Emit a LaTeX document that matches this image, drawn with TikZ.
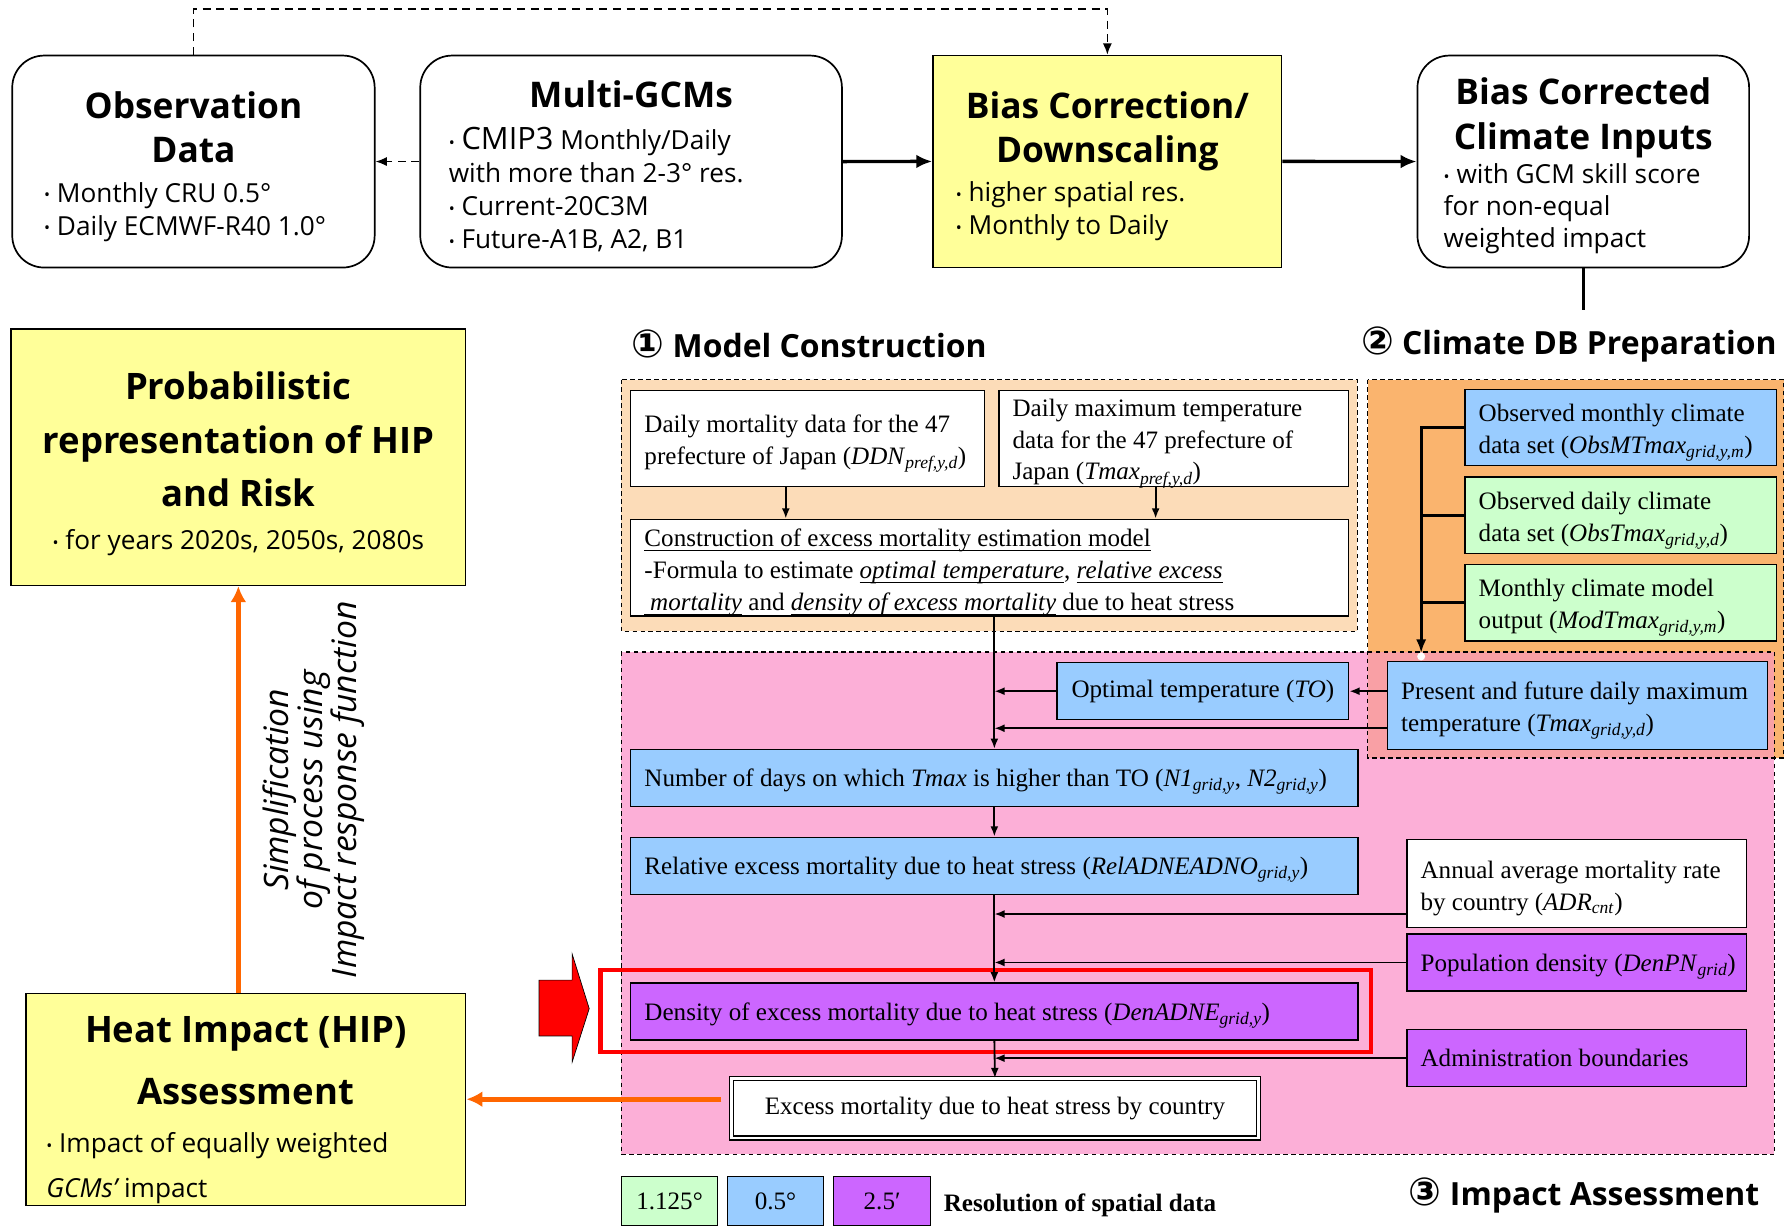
\documentclass[tikz,border=0pt]{standalone}
\usepackage{fontspec}
\usepackage{graphicx}
\setmainfont{Liberation Serif}
\newfontfamily\comicf{Open Sans}
\newfontfamily\djvf{DejaVu Sans}
\usetikzlibrary{arrows.meta,calc}
\definecolor{cyel}{HTML}{FFFF99}
\definecolor{cblue}{HTML}{99CCFF}
\definecolor{cgreen}{HTML}{CCFFCC}
\definecolor{cpurp}{HTML}{CC66FF}
\definecolor{cpeach}{HTML}{FCDCB8}
\definecolor{corange}{HTML}{FAB46E}
\definecolor{cpink}{HTML}{FCAFD7}
\definecolor{csalmon}{HTML}{F9A0A5}
\definecolor{carrow}{HTML}{FF6600}
\newcommand{\sbi}[1]{\textsubscript{\textit{#1}}}
\newcommand{\bt}{{\fontsize{14}{14}\selectfont\raisebox{1pt}{•}}}
\newcommand{\bul}{\comicf\fontsize{23}{29}\selectfont}
\newcommand{\ttl}{\comicf\bfseries\fontsize{31}{38}\selectfont}
\newcommand{\sectf}{\comicf\bfseries\fontsize{28}{34}\selectfont}
\newcommand{\lowr}[1]{\par\vspace{-#1}}
\newcommand{\myul}[1]{\leavevmode\setbox0\hbox{#1}\rlap{\rule[-3.5pt]{\wd0}{1pt}}\box0\relax}
\begin{document}
\begin{tikzpicture}[x=1pt,y=-1pt,
  lowerby/.style={execute at end node={\lowr{#1}}},
  topbox/.style={draw, line width=1.5pt, rounded corners=28pt, fill=white, anchor=north west, inner sep=0pt, align=flush left},
  yelbox/.style={draw, line width=1.3pt, fill=cyel, anchor=north west, inner sep=0pt, align=flush left},
  tbox/.style={draw, line width=1pt, anchor=north west, inner sep=0pt, align=flush left, font=\fontsize{22}{28}\selectfont, lowerby=9pt},
  cbox/.style={draw, line width=1pt, anchor=north west, inner sep=0pt, align=center, font=\fontsize{22}{28}\selectfont},
  region/.style={draw, line width=1.1pt, dash pattern=on 4pt off 3pt},
  arr/.style={line width=1.6pt, -{Latex[length=9pt,width=7pt]}},
  darr/.style={line width=1.3pt, dash pattern=on 7pt off 5pt, -{Latex[length=10pt,width=8pt]}},
  bigarr/.style={line width=3pt, -{Latex[length=14pt,width=12pt]}},
  oarr/.style={carrow, line width=4pt, -{Latex[length=14pt,width=14pt]}},
  sect/.style={anchor=west, inner sep=0pt, font=\sectf}
]
\useasboundingbox (0,0) rectangle (1568,1075);

% ---------- regions ----------
\fill[cpink] (545,572) rectangle (1557,1013);
\fill[corange] (1200,333) rectangle (1565,665);
\fill[csalmon] (1200,572) rectangle (1557,665);
\fill[cpeach] (545,333) rectangle (1191,554);
\draw[region] (545,333) rectangle (1191,554);
\draw[region] (1200,333) rectangle (1565,665);
\draw[region] (545,572) rectangle (1557,1013);

% ---------- top row ----------
\node[topbox, lowerby=9pt, minimum width=318pt, minimum height=186pt, text width=262pt] (obs) at (10,48)
 {{\centering\ttl Observation\\Data\par}\vspace{6pt}{\bul\bt\ Monthly CRU 0.5°\\\bt\ Daily ECMWF-R40 1.0°\par}};
\node[topbox, lowerby=8pt, minimum width=370pt, minimum height=186pt, text width=320pt] (gcm) at (368,48)
 {{\centering\ttl Multi-GCMs\par}\vspace{8pt}{\bul\bt\ {\fontsize{27}{29}\selectfont CMIP3} Monthly/Daily\\with more than 2-3° res.\\\bt\ Current-20C3M\\\bt\ Future-A1B, A2, B1\par}};
\node[yelbox, lowerby=9pt, minimum width=306pt, minimum height=186pt, text width=266pt] (bias) at (818,48)
 {{\centering\ttl Bias Correction/\\Downscaling\par}\vspace{6pt}{\bul\bt\ higher spatial res.\\\bt\ Monthly to Daily\par}};
\node[topbox, lowerby=7pt, minimum width=291pt, minimum height=186pt, text width=245pt] (bcci) at (1243,48)
 {{\centering\comicf\bfseries\fontsize{31}{40}\selectfont Bias Corrected\\Climate Inputs\par}\vspace{2pt}{\comicf\fontsize{23}{28}\selectfont\bt\ with GCM skill score\\for non-equal\\weighted impact\par}};

\draw[darr] (obs.north) -- ++(0,-40) -| (bias.north);
\draw[darr] (gcm.west) -- (obs.east);
\draw[bigarr] (gcm.east) -- (bias.west);
\draw[bigarr] (bias.east) -- (bcci.west);
\coordinate (bcend) at (1389,272);
\draw[line width=3pt] (bcci.south) -- (bcci.south |- bcend);

% ---------- left column ----------
\node[yelbox, lowerby=12pt, minimum width=399pt, minimum height=225pt, text width=379pt] (prob) at (9,288)
 {{\centering\comicf\bfseries\fontsize{32}{47}\selectfont Probabilistic\\representation of HIP\\and Risk\par}\vspace{9pt}{\centering\bul\bt\ for years 2020s, 2050s, 2080s\par}};
\node[yelbox, lowerby=18pt, minimum width=386pt, minimum height=186pt, text width=350pt] (hip) at (22,871)
 {{\centering\comicf\bfseries\fontsize{32}{55}\selectfont Heat Impact (HIP)\\Assessment\par}\vspace{3pt}{\comicf\fontsize{23}{39}\selectfont\bt\ Impact of equally weighted\\{\itshape GCMs’} impact\par}};
\node[rotate=90, align=center, inner sep=0pt, font=\comicf\itshape\fontsize{29.5}{30}\selectfont] (simp) at (275,693)
 {Simplification\\of process using\\Impact response function};
\draw[oarr] (hip.north -| prob.south) -- (prob.south);

% ---------- section titles ----------
\node[sect] (sec1) at (554,302) {{\djvf\fontsize{34}{34}\selectfont ①} Model Construction};
\node[sect] (sec2) at (1194,302) {{\djvf\fontsize{34}{34}\selectfont ②} Climate DB Preparation};
\node[sect] (sec3) at (1236,1049) {{\djvf\fontsize{34}{34}\selectfont ③} Impact Assessment};

% ---------- model construction ----------
\node[tbox, fill=white, minimum width=310pt, minimum height=84pt, text width=286pt] (ddn) at (553,342)
 {Daily mortality data for the 47\\prefecture of Japan (\textit{DDN}\sbi{pref,y,d})};
\node[tbox, fill=white, minimum width=307pt, minimum height=84pt, text width=283pt] (tmp) at (876,342)
 {Daily maximum temperature\\data for the 47 prefecture of\\Japan (\textit{Tmax}\sbi{pref,y,d})};
\node[tbox, fill=white, minimum width=630pt, minimum height=85pt, text width=606pt] (cons) at (553,455)
 {\myul{Construction of excess mortality estimation model}\\-Formula to estimate \myul{\textit{optimal temperature}}, \myul{\textit{relative excess}}\\\myul{\hspace{5pt}\textit{mortality}} and \myul{\textit{density of excess mortality}} due to heat stress};

% ---------- climate DB ----------
\node[tbox, fill=cblue, minimum width=273pt, minimum height=67pt, text width=249pt] (omon) at (1285,341)
 {Observed monthly climate\\data set (\textit{ObsMTmax}\sbi{grid,y,m})};
\node[tbox, fill=cgreen, minimum width=273pt, minimum height=67pt, text width=249pt] (oday) at (1285,418)
 {Observed daily climate\\data set (\textit{ObsTmax}\sbi{grid,y,d})};
\node[tbox, fill=cgreen, minimum width=273pt, minimum height=67pt, text width=249pt] (mmod) at (1285,495)
 {Monthly climate model\\output (\textit{ModTmax}\sbi{grid,y,m})};
\node[tbox, fill=cblue, minimum width=333pt, minimum height=77pt, text width=309pt] (pres) at (1217,580)
 {Present and future daily maximum\\temperature (\textit{Tmax}\sbi{grid,y,d})};

% ---------- impact assessment ----------
\node[cbox, fill=cblue, minimum width=256pt, minimum height=50pt] (opt) at (927,581)
 {Optimal temperature (\textit{TO})};
\node[tbox, fill=cblue, minimum width=638pt, minimum height=50pt, text width=614pt] (n1) at (553,657)
 {Number of days on which \textit{Tmax} is higher than TO (\textit{N1}\sbi{grid,y}, \textit{N2}\sbi{grid,y})};
\node[tbox, fill=cblue, minimum width=638pt, minimum height=50pt, text width=614pt] (rel) at (553,734)
 {Relative excess mortality due to heat stress (\textit{RelADNEADNO}\sbi{grid,y})};
\node[tbox, fill=white, minimum width=298pt, minimum height=77pt, text width=274pt] (adr) at (1234,736)
 {Annual average mortality rate\\by country (\textit{ADR}\sbi{cnt})};
\node[tbox, fill=cpurp, minimum width=298pt, minimum height=50pt, text width=274pt] (pop) at (1234,819)
 {\mbox{Population density (\textit{DenPN}\sbi{grid})}};
\node[tbox, fill=cpurp, minimum width=638pt, minimum height=50pt, text width=614pt] (den) at (553,862)
 {Density of excess mortality due to heat stress (\textit{DenADNE}\sbi{grid,y})};
\node[tbox, fill=cpurp, minimum width=298pt, minimum height=50pt, text width=274pt] (adm) at (1234,903)
 {Administration boundaries};
\node[cbox, fill=white, double, double distance=2.5pt, minimum width=463pt, minimum height=52pt] (exc) at (641,946)
 {Excess mortality due to heat stress by country};

\draw[red, line width=4pt] (527,851) rectangle (1203,923);
\draw[fill=red, line width=0.6pt] (473,860) -- (502,860) -- (502,837) -- (517,885) -- (502,932) -- (502,909) -- (473,909) -- cycle;

% ---------- connectors ----------
\coordinate (a1) at ([xshift=-19pt]ddn.south);
\draw[arr] (a1) -- (a1 |- cons.north);
\coordinate (a2) at ([xshift=-16pt]tmp.south);
\draw[arr] (a2) -- (a2 |- cons.north);
\coordinate (tr) at (n1.north);
\draw[arr] (cons.south -| tr) -- (tr);
\draw[arr] (opt.west) -- (opt.west -| tr);
\draw[arr] (pres.west |- opt.east) -- (opt.east);
\coordinate (p2) at ([yshift=-20pt]pres.west);
\draw[arr] (p2) -- (p2 -| tr);
\draw[arr] (n1.south) -- (rel.north);
\draw[arr] (rel.south) -- (den.north);
\coordinate (a3) at ([yshift=-27pt]adr.west);
\draw[arr] (a3) -- (a3 -| tr);
\draw[arr] (pop.west) -- (pop.west -| tr);
\draw[arr] (den.south) -- (exc.north);
\draw[arr] (adm.west) -- (adm.west -| tr);

\coordinate (dot) at (1247,576);
\draw[line width=2.5pt, -{Latex[length=12pt,width=9pt]}, shorten >=3pt] (omon.west) -| (dot);
\draw[line width=2.5pt] (oday.west) -- (oday.west -| dot);
\draw[line width=2.5pt] (mmod.west) -- (mmod.west -| dot);
\fill[white] (dot) circle (3.5pt);

\coordinate (ostart) at ([xshift=-8pt,yshift=8pt]exc.west);
\draw[oarr] (ostart) -- (ostart -| hip.east);

% ---------- legend ----------
\node[cbox, fill=cgreen, minimum width=84pt, minimum height=43pt] (lg1) at (545,1032) {1.125°};
\node[cbox, fill=cblue, minimum width=84pt, minimum height=43pt] (lg2) at (638,1032) {0.5°};
\node[cbox, fill=cpurp, minimum width=85pt, minimum height=43pt] (lg3) at (731,1032) {2.5′};
\node[anchor=west, inner sep=0pt, font=\bfseries\fontsize{22}{26}\selectfont] (lgt) at (828,1058) {Resolution of spatial data};
\end{tikzpicture}
\end{document}
